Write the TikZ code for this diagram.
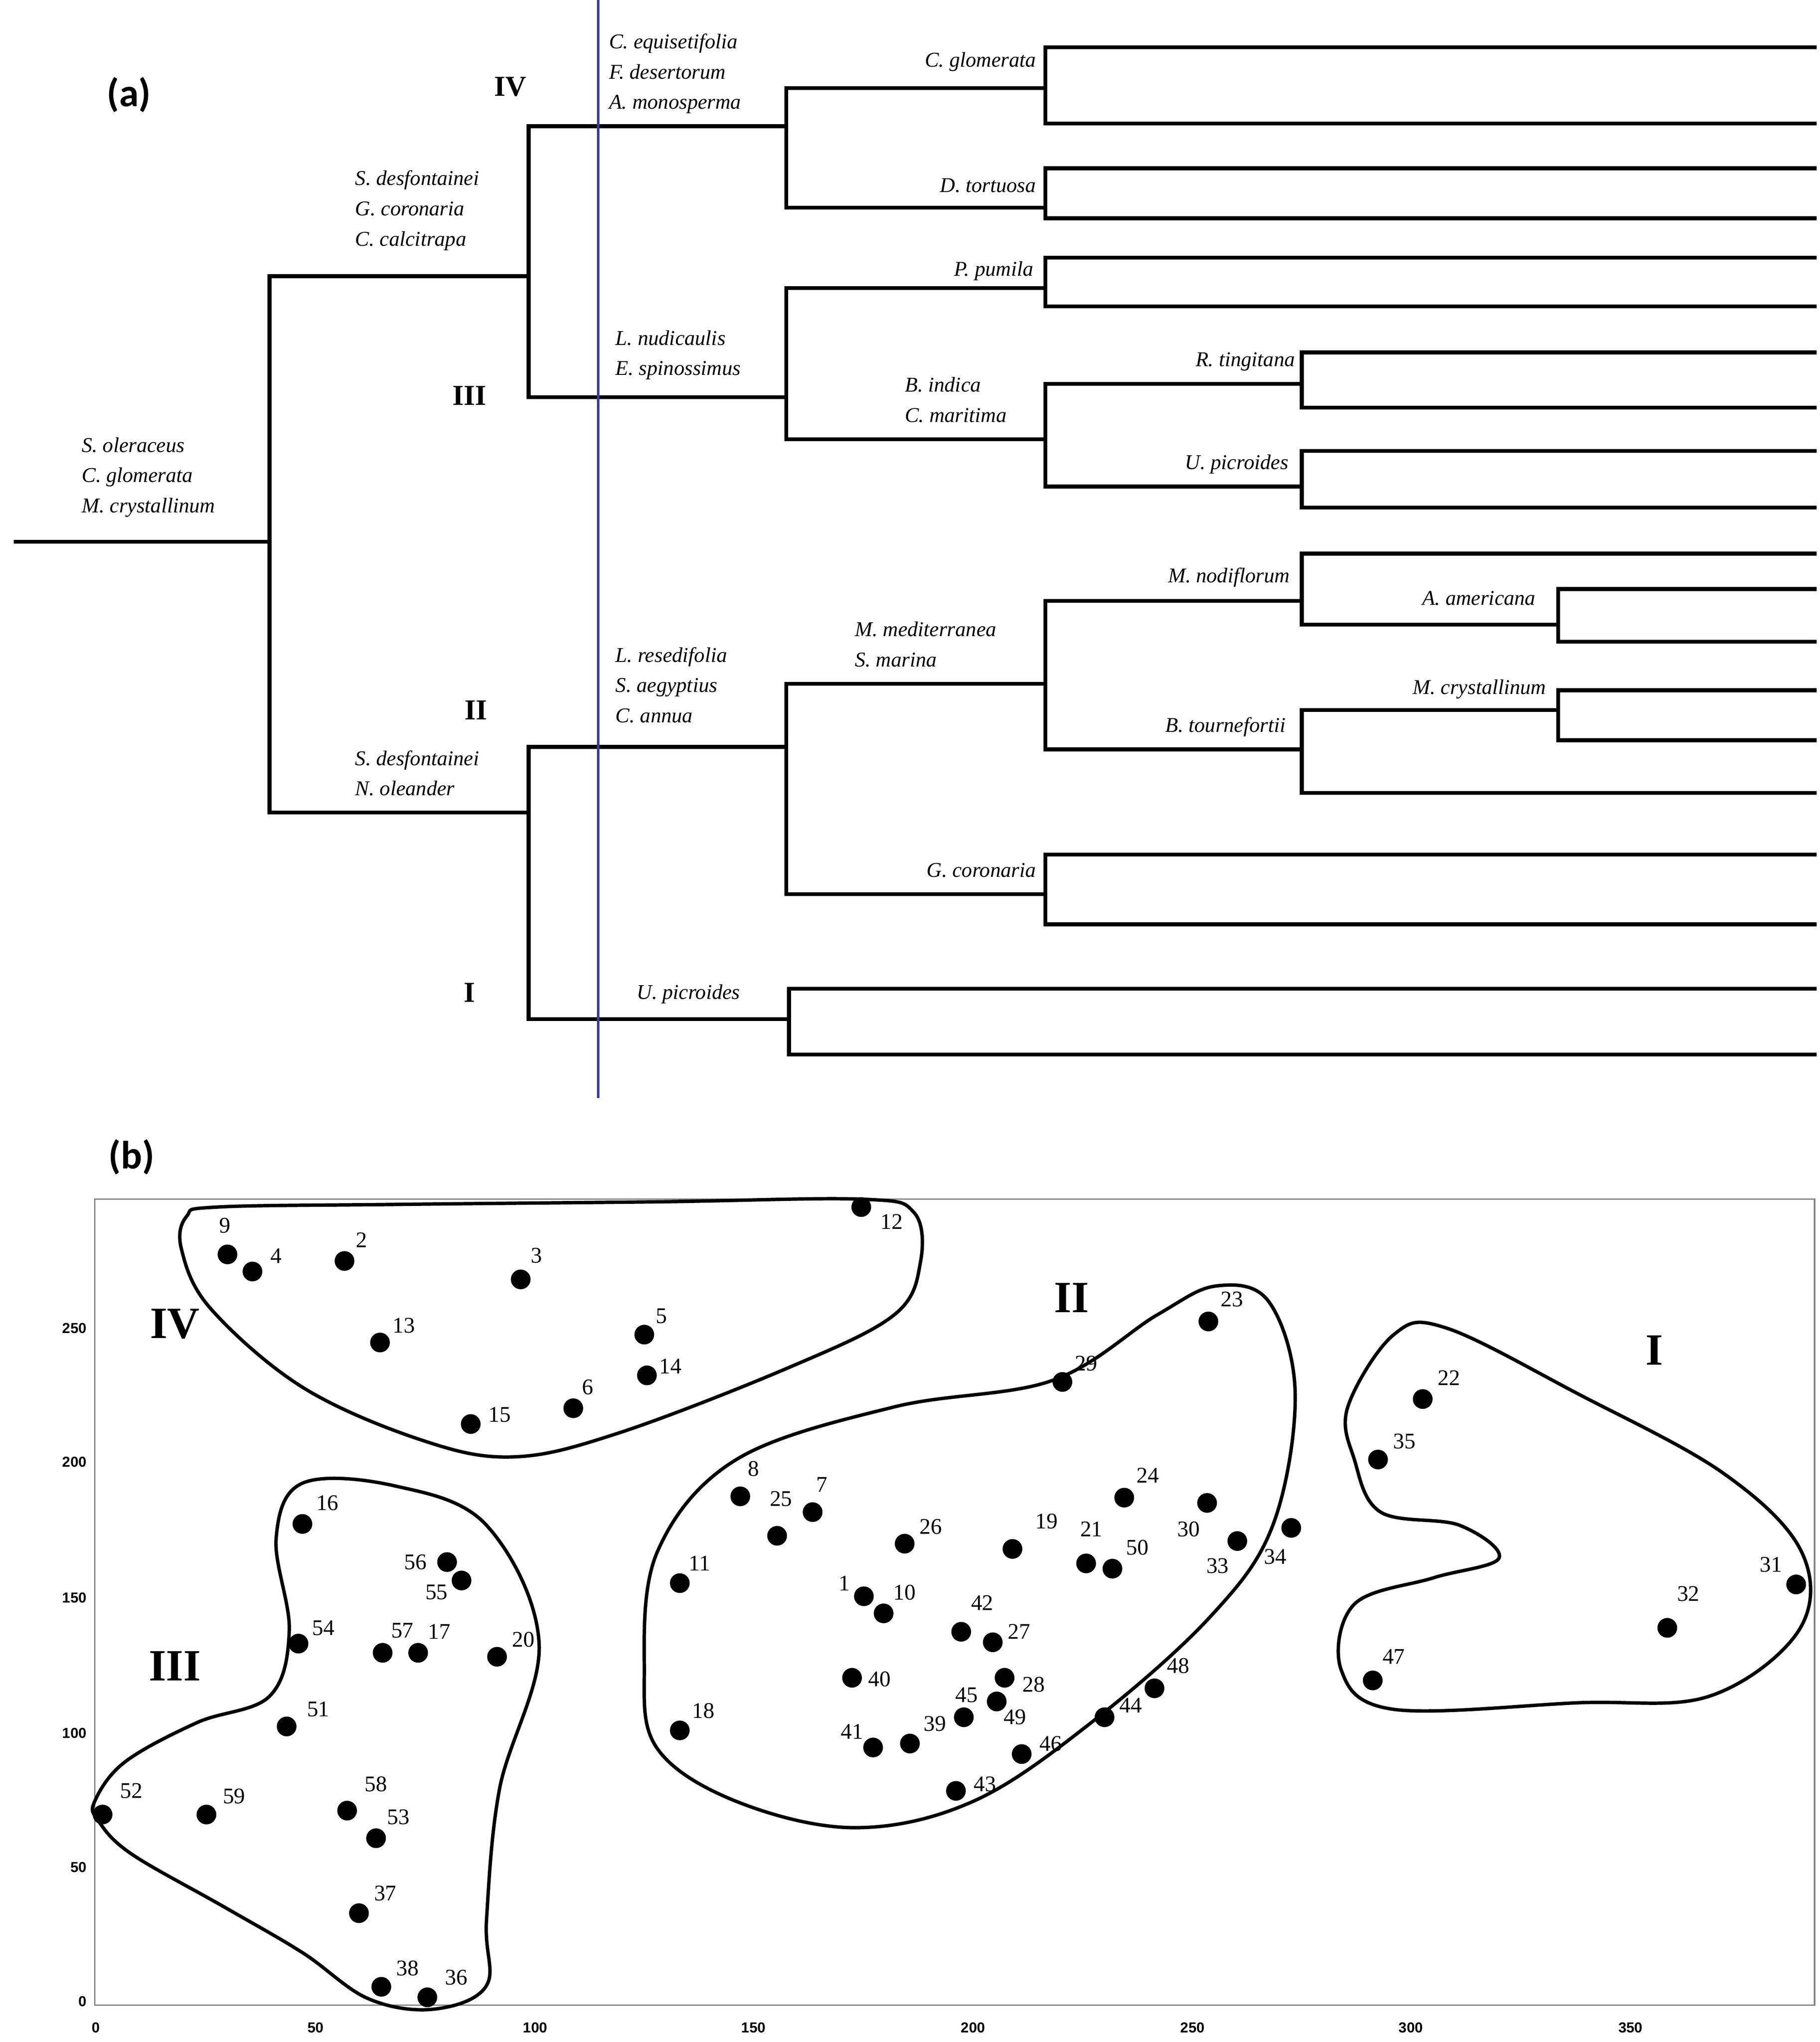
\documentclass[tikz,border=0pt]{standalone}
\usepackage{fontspec}
\setmainfont{Liberation Serif}
\newfontfamily\lab{Carlito}
\newfontfamily\axf{Liberation Sans}
\begin{document}
\begin{tikzpicture}[x=1pt,y=-1pt,
  br/.style={line width=3pt,line cap=rect},
  sp/.style={font=\itshape\fontsize{16}{23}\selectfont,inner sep=0pt,align=left},
  rn/.style={font=\fontsize{22}{24}\selectfont\bfseries,inner sep=0pt},
  cl/.style={font=\fontsize{34}{36}\selectfont\bfseries,inner sep=0pt},
  pl/.style={font=\fontsize{17}{20}\selectfont,inner sep=0pt},
  tk/.style={font=\fontsize{11}{12}\selectfont\axf\bfseries,inner sep=0pt},
  hull/.style={line width=2.6pt}]
\useasboundingbox (0,0) rectangle (1384,1553);
% ---------- (a)
\node[font=\fontsize{30}{32}\selectfont\lab\bfseries] (pa) at (98,72) {(a)};
\draw[br] (12,412)--(205,412);
\draw[br] (205,210)--(205,618);
\draw[br] (205,210)--(402,210) (402,96)--(402,302);
\draw[br] (402,96)--(598,96) (598,67)--(598,158);
\draw[br] (598,67)--(795,67) (795,36)--(795,94) (795,36)--(1380,36) (795,94)--(1380,94);
\draw[br] (598,158)--(795,158) (795,128)--(795,166) (795,128)--(1380,128) (795,166)--(1380,166);
\draw[br] (402,302)--(598,302) (598,219)--(598,334);
\draw[br] (598,219)--(795,219) (795,196)--(795,233) (795,196)--(1380,196) (795,233)--(1380,233);
\draw[br] (598,334)--(795,334) (795,292)--(795,370);
\draw[br] (795,292)--(990,292) (990,268)--(990,310) (990,268)--(1380,268) (990,310)--(1380,310);
\draw[br] (795,370)--(990,370) (990,343)--(990,386) (990,343)--(1380,343) (990,386)--(1380,386);
\draw[br] (205,618)--(402,618) (402,568)--(402,775);
\draw[br] (402,568)--(598,568) (598,520)--(598,680);
\draw[br] (598,520)--(795,520) (795,457)--(795,570);
\draw[br] (795,457)--(990,457) (990,421)--(990,475) (990,421)--(1380,421);
\draw[br] (990,475)--(1185,475) (1185,448)--(1185,488) (1185,448)--(1380,448) (1185,488)--(1380,488);
\draw[br] (795,570)--(990,570) (990,540)--(990,603) (990,603)--(1380,603);
\draw[br] (990,540)--(1185,540) (1185,525)--(1185,563) (1185,525)--(1380,525) (1185,563)--(1380,563);
\draw[br] (598,680)--(795,680) (795,650)--(795,703) (795,650)--(1380,650) (795,703)--(1380,703);
\draw[br] (402,775)--(600,775) (600,752)--(600,802) (600,752)--(1380,752) (600,802)--(1380,802);
\draw[line width=2pt,color={rgb,255:red,60;green,60;blue,140}] (455,0)--(455,835);
% labels
\node[sp,anchor=west] (l1) at (62,363) {S. oleraceus\\C. glomerata\\M. crystallinum};
\node[sp,anchor=west] (l2) at (270,160) {S. desfontainei\\G. coronaria\\C. calcitrapa};
\node[sp,anchor=west] (l3) at (463,56) {C. equisetifolia\\F. desertorum\\A. monosperma};
\node[sp,anchor=east] (l4) at (788,47) {C. glomerata};
\node[sp,anchor=east] (l5) at (788,141) {D. tortuosa};
\node[sp,anchor=east] (l6) at (786,206) {P. pumila};
\node[sp,anchor=west] (l7) at (468,270) {L. nudicaulis\\E. spinossimus};
\node[sp,anchor=west] (l8) at (688,304) {B. indica\\C. maritima};
\node[sp,anchor=east] (l9) at (985,275) {R. tingitana};
\node[sp,anchor=east] (l10) at (980,353) {U. picroides};
\node[sp,anchor=east] (l11) at (981,439) {M. nodiflorum};
\node[sp,anchor=east] (l12) at (1168,455) {A. americana};
\node[sp,anchor=west] (l13) at (650,490) {M. mediterranea\\S. marina};
\node[sp,anchor=west] (l14) at (468,521) {L. resedifolia\\S. aegyptius\\C. annua};
\node[sp,anchor=east] (l15) at (1176,524) {M. crystallinum};
\node[sp,anchor=east] (l16) at (978,553) {B. tournefortii};
\node[sp,anchor=west] (l17) at (270,588) {S. desfontainei\\N. oleander};
\node[sp,anchor=east] (l18) at (788,662) {G. coronaria};
\node[sp,anchor=east] (l19) at (563,756) {U. picroides};
\node[rn] (r4) at (388,66) {IV};
\node[rn] (r3) at (357,301) {III};
\node[rn] (r2) at (362,540) {II};
\node[rn] (r1) at (357,755) {I};
% ---------- (b)
\node[font=\fontsize{30}{32}\selectfont\lab\bfseries] (pb) at (100,880) {(b)};
\draw[line width=1pt,gray] (72,912) rectangle (1380,1525);
\foreach \v/\p in {0/73,50/240,100/407,150/573,200/740,250/907,300/1073,350/1240}
  \node[tk] at (\p,1542) {\v};
\foreach \v/\p in {0/1522,50/1420,100/1318,150/1215,200/1112,250/1010}
  \node[tk,anchor=east] at (66,\p) {\v};
% hulls
\draw[hull] plot[smooth cycle,tension=0.6] coordinates {(165,918) (300,916) (500,914) (655,912) (695,922) (700,960) (680,1000) (600,1040) (470,1090) (390,1108) (320,1095) (230,1055) (160,995) (138,950) (142,925)};
\draw[hull] plot[smooth cycle,tension=0.6] coordinates {(490,1270) (500,1180) (560,1110) (680,1070) (800,1050) (880,1000) (925,978) (965,990) (985,1060) (968,1160) (920,1230) (830,1310) (740,1370) (650,1390) (560,1370) (500,1330)};
\draw[hull] plot[smooth cycle,tension=0.6] coordinates {(1025,1070) (1060,1015) (1100,1010) (1200,1060) (1310,1120) (1370,1180) (1368,1240) (1300,1290) (1200,1295) (1060,1300) (1020,1270) (1030,1220) (1090,1200) (1140,1185) (1110,1160) (1050,1150) (1030,1110)};
\draw[hull] plot[smooth cycle,tension=0.6] coordinates {(72,1370) (95,1340) (150,1310) (205,1290) (220,1240) (210,1170) (230,1128) (300,1130) (370,1160) (410,1250) (380,1360) (370,1460) (370,1510) (330,1528) (280,1520) (230,1485) (170,1450) (100,1410) (75,1385)};
\node[cl] (c4) at (133,1007) {IV};
\node[cl] (c3) at (133,1267) {III};
\node[cl] (c2) at (815,987) {II};
\node[cl] (c1) at (1258,1027) {I};
% points
\foreach \n/\x/\y/\lx/\ly in {9/173/954/171/932, 4/192/967/210/955, 2/262/959/275/943, 3/396/973/408/955,
 13/289/1021/307/1008, 5/490/1015/503/1001, 14/492/1046/510/1039, 6/436/1071/447/1055, 15/358/1083/380/1076,
 12/655/918/678/929, 23/919/1005/937/988, 29/808/1051/826/1037, 22/1082/1064/1102/1048, 35/1048/1110/1068/1096,
 8/563/1138/573/1117, 25/591/1168/594/1140, 7/618/1150/625/1129, 26/688/1174/708/1161, 24/855/1139/873/1122,
 30/918/1143/904/1163, 33/941/1172/926/1191, 34/982/1162/970/1184, 19/770/1178/796/1157, 21/826/1189/830/1163,
 50/846/1193/865/1177, 11/517/1204/532/1189, 1/657/1214/642/1204, 10/672/1227/688/1211, 42/731/1241/747/1219,
 27/755/1249/775/1241, 28/764/1276/786/1281, 40/648/1276/669/1277, 45/733/1306/735/1289, 49/758/1294/772/1306,
 44/840/1306/860/1297, 48/878/1284/896/1267, 18/517/1316/535/1301, 41/664/1329/648/1317, 39/692/1326/711/1311,
 46/777/1334/799/1326, 43/727/1362/749/1357, 16/230/1159/249/1143, 56/340/1188/316/1188, 55/351/1202/332/1211,
 54/227/1250/246/1238, 57/291/1257/306/1240, 17/318/1257/334/1241, 20/378/1260/398/1247, 51/218/1313/242/1300,
 52/78/1380/100/1362, 59/157/1380/178/1366, 58/264/1377/286/1357, 53/286/1398/303/1382, 37/273/1455/293/1440,
 38/290/1511/310/1497, 36/325/1519/347/1504, 32/1268/1238/1284/1212, 31/1366/1205/1347/1190, 47/1044/1278/1060/1260}
 {\fill (\x,\y) circle (7.5);
  \node[pl] (p\n) at (\lx,\ly) {\n};}
\end{tikzpicture}
\end{document}
